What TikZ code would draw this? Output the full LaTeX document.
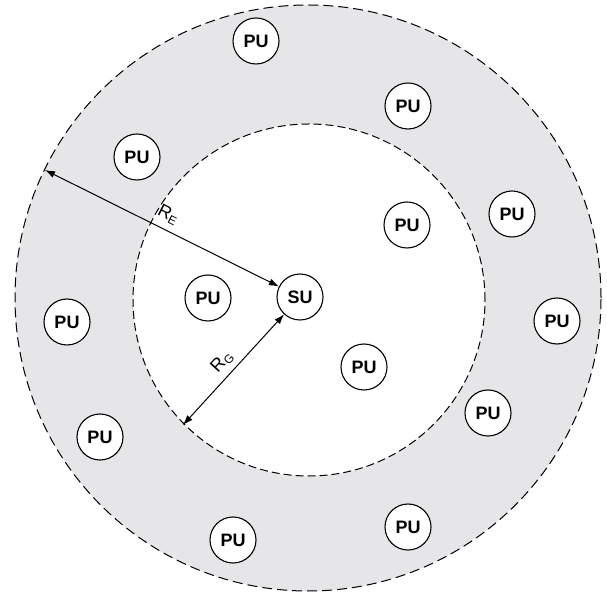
\documentclass[tikz,border=0pt]{standalone}
\usepackage{fontspec}
\setmainfont{Liberation Sans}
\usetikzlibrary{arrows.meta}
\definecolor{ringgray}{RGB}{230,230,232}
\tikzset{
  x=1pt, y=1pt,
  unit/.style={circle, draw=black, line width=1.1pt, fill=white, minimum size=46pt, inner sep=0pt,
    font=\fontsize{18}{18}\selectfont\bfseries},
  zone/.style={draw=black, line width=1pt},
  radius arrow/.style={line width=1pt, {Latex[length=10pt,width=7pt]}-{Latex[length=10pt,width=7pt]}},
  rlabel/.style={font=\fontsize{18}{18}\selectfont, inner sep=0pt}
}
\newcommand{\rsub}[1]{R\raisebox{-3pt}{\fontsize{12}{12}\selectfont #1}}
\begin{document}
\begin{tikzpicture}
\useasboundingbox (0,0) rectangle (607,594);
\fill[white] (0,0) rectangle (607,594);
% zones
\fill[ringgray] (308,296) circle[radius=293];
\fill[white] (309,294) circle[radius=176];
\draw[zone, dash pattern=on 10pt off 5pt] (308,296) circle[radius=293];
\draw[zone, dash pattern=on 8pt off 4pt] (309,294) circle[radius=176];
% units
\node[unit] (su) at (300,297) {SU};
\node[unit] (pu1) at (256,553) {PU};
\node[unit] (pu2) at (408,488) {PU};
\node[unit] (pu3) at (137,437) {PU};
\node[unit] (pu4) at (512,380) {PU};
\node[unit] (pu5) at (407,369) {PU};
\node[unit] (pu6) at (208,296) {PU};
\node[unit] (pu8) at (67,272) {PU};
\node[unit] (pu9) at (557,273) {PU};
\node[unit] (pu10) at (364,227) {PU};
\node[unit] (pu11) at (488,181) {PU};
\node[unit] (pu12) at (100,157) {PU};
\node[unit] (pu13) at (233,54) {PU};
\node[unit] (pu14) at (408,67) {PU};
% radii
\coordinate (re) at (45,424);
\coordinate (rg) at (183,169);
\draw[radius arrow] (re) -- (su);
\draw[radius arrow] (rg) -- (su);
\node[rlabel, rotate=-26.5] (lre) at (168,379) {\rsub{E}};
\node[rlabel, rotate=47.5] (lrg) at (222,232) {\rsub{G}};
\end{tikzpicture}
\end{document}
